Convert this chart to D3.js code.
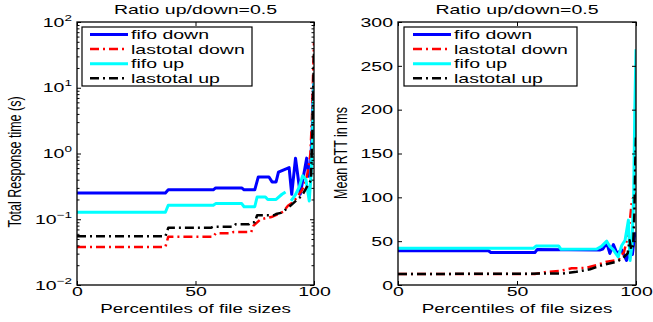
<!DOCTYPE html>
<html><head><meta charset="utf-8">
<script src="https://cdn.jsdelivr.net/npm/d3@7/dist/d3.min.js"></script>
<style>
body{margin:0;background:#fff}
text{font-family:"Liberation Sans",Arial,Helvetica,sans-serif;fill:#000}
</style>
</head><body>
<svg id="c" width="653" height="322"></svg>
<script>
// ---------------- data ----------------
const seriesNames = ["fifo down", "lastotal down", "fifo up", "lastotal up"];
const titleText = "Ratio up/down=0.5";
const xLabelText = "Percentiles of file sizes";
const yLabelLeft = "Total Response time (s)";
const yLabelRight = "Mean RTT in ms";
const xTicks = [0, 50, 100];
const yTicksLeft = [0.01, 0.1, 1, 10, 100];
const yTickExpLeft = ["\u22122", "\u22121", "0", "1", "2"];
const yTicksRight = [0, 50, 100, 150, 200, 250, 300];

// Left panel: total response time (s), log scale
const fifoDownRespX = [0, 37.3, 38.5, 57.5, 58.5, 69.5, 70.5, 75, 76.5, 81, 82.3, 84, 85, 88, 89.5, 90.6, 92.2, 94.2, 96.9, 97.8, 98.6, 99.3, 99.7, 100];
const fifoDownRespY = [0.25, 0.25, 0.28, 0.28, 0.30, 0.30, 0.28, 0.28, 0.44, 0.44, 0.37, 0.37, 0.52, 0.58, 0.61, 0.24, 0.85, 0.24, 0.85, 0.45, 0.7, 2.5, 8, 15];
const lastDownRespX = [0, 37.3, 38.5, 57.5, 58.5, 65, 66, 73.5, 74.5, 77.5, 82, 85, 87, 89, 91, 93, 95, 96.5, 97.5, 98.5, 99.2, 99.6, 100];
const lastDownRespY = [0.038, 0.038, 0.054, 0.054, 0.061, 0.061, 0.064, 0.064, 0.08, 0.1, 0.108, 0.12, 0.13, 0.16, 0.18, 0.22, 0.28, 0.38, 0.55, 1.0, 4, 15, 48];
const fifoUpRespX = [0, 37.3, 38.5, 57.5, 58.5, 69.5, 70.5, 75, 76, 79.5, 80.5, 84, 86.5, 88, 89, 90.3, 92, 93.8, 95.2, 96.6, 98, 98.8, 99.4, 99.8, 100];
const fifoUpRespY = [0.128, 0.128, 0.163, 0.163, 0.173, 0.173, 0.155, 0.155, 0.218, 0.218, 0.20, 0.20, 0.24, 0.26, null, 0.19, 0.23, 0.31, 0.46, 0.40, 0.19, 0.5, 2, 7, 12];
const lastUpRespX = [0, 37.3, 38.5, 56.5, 57.5, 66, 67, 72.5, 73.5, 75, 76, 83, 84, 86, 88, 90, 93, 95, 97, 98.7, 99.3, 99.7, 100];
const lastUpRespY = [0.055, 0.055, 0.074, 0.074, 0.077, 0.077, 0.084, 0.084, 0.09, 0.09, 0.115, 0.115, 0.12, 0.125, 0.14, 0.16, 0.2, 0.23, 0.31, 0.39, 2, 10, 35];

// Right panel: mean RTT (ms), linear scale
const fifoDownRttX = [0, 38, 39, 57.5, 58.5, 85, 86, 87.7, 89, 90.5, 92, 94, 96, 97.5, 98.5, 99.3, 100];
const fifoDownRttY = [39, 39, 37, 37, 40.5, 40, 41, 48, 36, 46, 36, 40, 28, 40, 35, 55, 60];
const lastDownRttX = [0, 57.5, 62.5, 68, 73, 79, 83.5, 87.7, 91, 93, 95, 96.5, 97.5, 98.3, 99, 100];
const lastDownRttY = [12.5, 12.5, 15, 16, 19, 19.5, 22.8, 26.6, 28, 30, 38, 55, 75, 97, 100, 105];
const fifoUpRttX = [0, 57, 58, 67.5, 68.5, 83.5, 85.5, 87.7, 89, 90.5, 92.5, 94, 95.4, 96.8, 97.5, 98.3, 99, 99.5, 100];
const fifoUpRttY = [42, 42, 44.5, 44.5, 40.7, 41, 44, 50, 44, 40, 32, 45, 51, 74, 28, 45, 100, 200, 269];
const lastUpRttX = [0, 60, 69, 75, 80.7, 86, 92, 94.6, 96.5, 97.3, 98, 98.8, 99.3, 99.7, 100];
const lastUpRttY = [12.5, 13, 13, 15, 18, 22.8, 26.6, 31, 36, 51, 40, 45, 80, 140, 169];

const seriesColors = ["#0000ff", "#ff0000", "#00ffff", "#000000"];
const seriesDash = [null, "9,4,2,4", null, "9,4,2,4"];
const seriesWidth = [3, 2.5, 3, 2.5];

// ---------------- drawing ----------------
const SX = 1.5;            // horizontal stretch of the original figure's text
const FS = 13;
const svg = d3.select("#c");
svg.append("rect").attr("width", 653).attr("height", 322).attr("fill", "#fff");

function stretchText(sel) {
  sel.each(function () {
    const x = +this.getAttribute("x") || 0;
    this.setAttribute("x", x / SX);
    this.setAttribute("transform", `scale(${SX},1)`);
  });
}

function hText(g, x, y, txt, anchor, size) {
  g.append("text")
    .attr("transform", `translate(${x},${y}) scale(${SX},1)`)
    .attr("text-anchor", anchor).attr("font-size", size).text(txt);
}

function drawPanel(cfg, idx) {
  const top = 22, bottom = 285;
  const g = svg.append("g");
  const x = d3.scaleLinear().domain([0, 100]).range([cfg.x0, cfg.x1]);
  const y = cfg.log ? d3.scaleLog().domain([0.01, 100]).range([bottom, top])
                    : d3.scaleLinear().domain([0, 300]).range([bottom, top]);

  const clipId = "clip" + idx;
  svg.append("clipPath").attr("id", clipId).append("rect")
    .attr("x", cfg.x0).attr("y", top).attr("width", cfg.x1 - cfg.x0).attr("height", bottom - top);

  const line = d3.line().defined(d => d[1] != null).x(d => x(d[0])).y(d => y(d[1]));
  cfg.series.forEach((s, i) => {
    const pts = s.x.map((v, k) => [v, s.y[k]]);
    g.append("path").datum(pts)
      .attr("clip-path", `url(#${clipId})`)
      .attr("d", line).attr("fill", "none")
      .attr("stroke", seriesColors[i]).attr("stroke-width", seriesWidth[i])
      .attr("stroke-linejoin", "round")
      .attr("stroke-dasharray", seriesDash[i]);
  });

  // axes (ticks inside, mirrored)
  const ax = g.append("g").attr("font-size", FS);
  ax.append("g").attr("transform", `translate(0,${bottom})`)
    .call(d3.axisBottom(x).tickValues(xTicks).tickSize(-4).tickSizeOuter(0).tickPadding(2));
  ax.append("g").attr("transform", `translate(0,${top})`)
    .call(d3.axisTop(x).tickValues(xTicks).tickSize(-4).tickSizeOuter(0).tickFormat(""));
  if (cfg.log) {
    ax.append("g").attr("transform", `translate(${cfg.x0},0)`)
      .call(d3.axisLeft(y).tickValues(yTicksLeft).tickSize(-4).tickSizeOuter(0).tickFormat(""));
    ax.append("g").attr("transform", `translate(${cfg.x1},0)`)
      .call(d3.axisRight(y).tickValues(yTicksLeft).tickSize(-4).tickSizeOuter(0).tickFormat(""));
    const minors = [];
    for (let e = -2; e < 2; e++) for (let m = 2; m <= 9; m++) minors.push(m * Math.pow(10, e));
    ax.append("g").attr("transform", `translate(${cfg.x0},0)`)
      .call(d3.axisLeft(y).tickValues(minors).tickSize(-2.5).tickSizeOuter(0).tickFormat(""));
    ax.append("g").attr("transform", `translate(${cfg.x1},0)`)
      .call(d3.axisRight(y).tickValues(minors).tickSize(-2.5).tickSizeOuter(0).tickFormat(""));
    // 10^n labels
    yTicksLeft.forEach((v, i) => {
      const t = ax.append("text")
        .attr("transform", `translate(${cfg.x0 - 5},${y(v) + 4.5}) scale(${SX},1)`)
        .attr("text-anchor", "end").attr("font-size", FS);
      t.append("tspan").text("10");
      t.append("tspan").attr("dy", -6).attr("font-size", 9).text(yTickExpLeft[i]);
    });
  } else {
    ax.append("g").attr("transform", `translate(${cfg.x0},0)`)
      .call(d3.axisLeft(y).tickValues(yTicksRight).tickSize(-4).tickSizeOuter(0).tickPadding(5));
    ax.append("g").attr("transform", `translate(${cfg.x1},0)`)
      .call(d3.axisRight(y).tickValues(yTicksRight).tickSize(-4).tickSizeOuter(0).tickFormat(""));
  }
  ax.selectAll(".domain").remove();
  ax.selectAll(".tick line").attr("stroke", "#000").attr("stroke-width", 1);
  ax.selectAll(".tick text").attr("font-size", FS).attr("fill", "#000")
    .attr("font-family", '"Liberation Sans",Arial,sans-serif');
  stretchText(ax.selectAll(".tick text"));

  g.append("rect").attr("x", cfg.x0).attr("y", top)
    .attr("width", cfg.x1 - cfg.x0).attr("height", bottom - top)
    .attr("fill", "none").attr("stroke", "#000").attr("stroke-width", 1.3);

  // legend
  const L = cfg.legend;
  const lg = g.append("g");
  lg.append("rect").attr("x", L.x).attr("y", L.y).attr("width", L.w).attr("height", L.h)
    .attr("fill", "#fff").attr("stroke", "#000").attr("stroke-width", 1.2);
  seriesNames.forEach((n, i) => {
    const yy = L.y + 7.5 + i * 14.6;
    lg.append("line").attr("x1", L.lx0).attr("x2", L.lx1).attr("y1", yy).attr("y2", yy)
      .attr("stroke", seriesColors[i]).attr("stroke-width", seriesWidth[i])
      .attr("stroke-dasharray", seriesDash[i]);
    hText(lg, L.lx1 + 3, yy + 4.6, n, "start", FS);
  });

  // title & labels
  const cx = (cfg.x0 + cfg.x1) / 2;
  hText(g, cx, 14, titleText, "middle", FS);
  hText(g, cx, 313, xLabelText, "middle", 12.5);
  g.append("text")
    .attr("transform", `translate(${cfg.ylx},${cfg.lyc}) rotate(-90) scale(1,${SX})`)
    .attr("text-anchor", "middle").attr("font-size", 12.5).text(cfg.ylabel);
}

drawPanel({
  x0: 77, x1: 314, log: true, ylabel: yLabelLeft, ylx: 21, lyc: 162,
  legend: {x: 82, y: 27, w: 170, h: 59, lx0: 90, lx1: 128},
  series: [
    {x: fifoDownRespX, y: fifoDownRespY},
    {x: lastDownRespX, y: lastDownRespY},
    {x: fifoUpRespX, y: fifoUpRespY},
    {x: lastUpRespX, y: lastUpRespY}
  ]
}, 0);

drawPanel({
  x0: 398, x1: 636, log: false, ylabel: yLabelRight, ylx: 347, lyc: 153,
  legend: {x: 404, y: 27, w: 173, h: 59, lx0: 413, lx1: 451},
  series: [
    {x: fifoDownRttX, y: fifoDownRttY},
    {x: lastDownRttX, y: lastDownRttY},
    {x: fifoUpRttX, y: fifoUpRttY},
    {x: lastUpRttX, y: lastUpRttY}
  ]
}, 1);
</script>
</body></html>
